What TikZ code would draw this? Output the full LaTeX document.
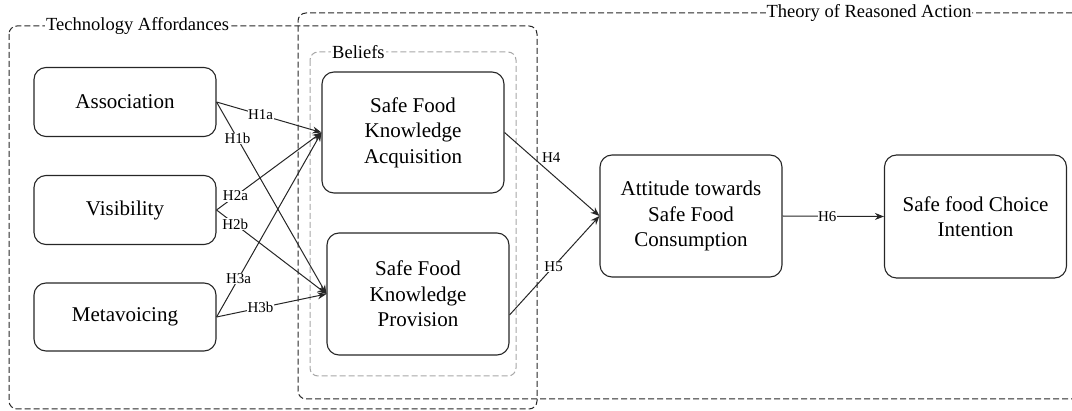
\documentclass[tikz,border=0pt]{standalone}
\usepackage{fontspec}
\setmainfont{Liberation Serif}
\newfontfamily\tnr{Liberation Serif}
\usetikzlibrary{arrows.meta}
\begin{document}
\begin{tikzpicture}[x=1pt,y=-1pt,
  box/.style={draw=black!85, line width=1.1pt, rounded corners=12pt, minimum width=182pt, align=center, font=\tnr\fontsize{21}{25.5}\selectfont, inner sep=0pt},
  grp/.style={dash pattern=on 6pt off 3pt, line width=1pt, draw=black!85, rounded corners=8pt},
  grplbl/.style={fill=white, inner sep=1pt, font=\tnr\fontsize{18.5}{22}\selectfont},
  hl/.style={fill=white, inner sep=0.5pt, font=\tnr\fontsize{15}{18}\selectfont},
  arr/.style={-{Stealth[length=9pt,width=7pt]}, line width=1pt, draw=black!85}
]
\useasboundingbox (0,0) rectangle (1072,411);
% group frames
\draw[grp] (9,26) rectangle (537,409);
\draw[grp] (1072,13) -- (298,13) -- (298,399) -- (1072,399);
\draw[grp, draw=black!35] (310,52) rectangle (516,376);
\node[grplbl, anchor=west] (talbl) at (45,26) {Technology Affordances};
\node[grplbl] (tralbl) at (869,13) {Theory of Reasoned Action};
\node[grplbl, anchor=west] (blbl) at (331,52) {Beliefs};
% nodes
\node[box, minimum height=69pt] (assoc) at (125,102) {Association};
\node[box, minimum height=69pt] (vis) at (125,210) {Visibility};
\node[box, minimum height=68pt] (meta) at (125,317) {Metavoicing};
\node[box, minimum height=121pt] (acq) at (413,132.5) {Safe Food\\Knowledge\\Acquisition};
\node[box, minimum height=122pt] (prov) at (418,294) {Safe Food\\Knowledge\\Provision};
\node[box, minimum height=122pt] (att) at (691,216) {Attitude towards\\Safe Food\\Consumption};
\node[box, minimum height=123pt] (int) at (975.5,216.5) {Safe food Choice\\Intention};
% connectors
\draw[arr] (assoc.east) -- node[hl, pos=0.42] {H1a} (acq.west);
\draw[arr] (assoc.east) -- node[hl, pos=0.19] {H1b} (prov.west);
\draw[arr] (vis.east) -- node[hl, pos=0.18] {H2a} (acq.west);
\draw[arr] (vis.east) -- node[hl, pos=0.17] {H2b} (prov.west);
\draw[arr] (meta.east) -- node[hl, pos=0.21] {H3a} (acq.west);
\draw[arr] (meta.east) -- node[hl, pos=0.4] {H3b} (prov.west);
\draw[arr] (acq.east) -- node[pos=0.38, anchor=south west, inner sep=1pt, font=\tnr\fontsize{15}{18}\selectfont] {H4} (att.west);
\draw[arr] ([yshift=-21pt]prov.east) -- node[hl, pos=0.49] {H5} (att.west);
\draw[arr] (att.east) -- node[hl, pos=0.44] {H6} (int.west);
\end{tikzpicture}
\end{document}
